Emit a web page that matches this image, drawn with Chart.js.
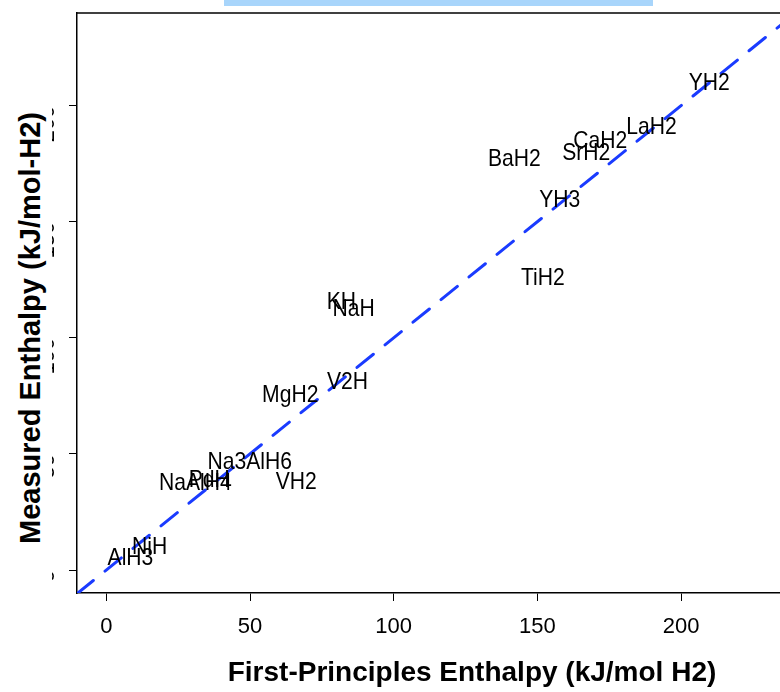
<!DOCTYPE html>
<html>
<head>
<meta charset="utf-8">
<script src="https://cdn.jsdelivr.net/npm/chart.js@4"></script>
<style>
  html, body { margin: 0; padding: 0; background: #fff; overflow: hidden; width: 780px; height: 692px; }
  #wrap { position: absolute; left: 0; top: 0; width: 890px; height: 692px; }
  #topbar { position: absolute; left: 224px; top: 0; width: 429px; height: 6px; background: #a8d5fb; }
  #ytitle {
    position: absolute; left: 0; top: 0; width: 52px; height: 692px; background: #fff;
  }
  #ytitle span {
    position: absolute; left: 30px; top: 328px; white-space: nowrap;
    transform: translate(-50%, -50%) rotate(-90deg);
    font: bold 29px "Liberation Sans", Arial, sans-serif;
    color: #000;
  }
</style>
</head>
<body>
<div id="wrap"><canvas id="chart" width="890" height="692"></canvas></div>
<div id="ytitle"><span>Measured Enthalpy (kJ/mol-H2)</span></div>
<div id="topbar"></div>
<script>
// compounds, first-principles vs measured enthalpy (kJ/mol H2)
const compounds = ['YH2', 'LaH2', 'CaH2', 'SrH2', 'BaH2', 'YH3', 'TiH2', 'KH', 'NaH', 'V2H',
  'MgH2', 'Na3AlH6', 'NaAlH4', 'PdH', 'VH2', 'NiH', 'AlH3'];
const firstPrinciples = [209.8, 189.7, 171.9, 167.0, 142.0, 157.8, 151.9, 81.8, 86.1, 83.9,
  64.0, 49.9, 31.0, 35.8, 66.1, 15.1, 8.4];
const measured = [209.8, 190.8, 184.4, 179.6, 177.0, 159.4, 125.8, 115.4, 112.4, 81.0,
  75.0, 46.5, 37.5, 38.8, 37.9, 9.9, 5.2];

const xTicks = [0, 50, 100, 150, 200, 250];
const yTicks = [0, 50, 100, 150, 200];
const refLine = [-10.2, 270]; // y = x

const FONT = '"Liberation Sans", Arial, sans-serif';

// draw compound names centred on their points (narrow, like the original)
const labelPlugin = {
  id: 'labels',
  afterDatasetsDraw(chart) {
    const ctx = chart.ctx;
    const meta = chart.getDatasetMeta(1);
    const sx = 0.88;
    ctx.save();
    ctx.font = '24px ' + FONT;
    ctx.fillStyle = '#000';
    ctx.textAlign = 'center';
    ctx.textBaseline = 'middle';
    meta.data.forEach((pt, i) => {
      ctx.save();
      ctx.translate(pt.x, pt.y);
      ctx.scale(sx, 1);
      ctx.fillText(compounds[i], 0, 0);
      ctx.restore();
    });
    ctx.restore();
  }
};

// top edge of the plot box
const boxPlugin = {
  id: 'box',
  afterDraw(chart) {
    const { ctx, chartArea } = chart;
    ctx.save();
    ctx.strokeStyle = '#000';
    ctx.lineWidth = 1.5;
    ctx.beginPath();
    ctx.moveTo(chartArea.left, chartArea.top);
    ctx.lineTo(chartArea.right, chartArea.top);
    ctx.stroke();
    ctx.restore();
  }
};

new Chart(document.getElementById('chart'), {
  type: 'scatter',
  data: {
    datasets: [
      {
        type: 'line',
        data: refLine.map(v => ({ x: v, y: v })),
        borderColor: '#1a3bff',
        borderWidth: 3,
        borderDash: [21, 15],
        borderCapStyle: 'round',
        pointRadius: 0,
        fill: false
      },
      {
        data: firstPrinciples.map((x, i) => ({ x, y: measured[i] })),
        pointRadius: 0,
        pointHoverRadius: 0
      }
    ]
  },
  options: {
    responsive: false,
    animation: false,
    events: [],
    layout: { padding: { top: 13, right: 23, left: 0, bottom: 0 } },
    plugins: { legend: { display: false }, tooltip: { enabled: false } },
    scales: {
      x: {
        type: 'linear',
        min: -10.2,
        max: 264.7,
        afterBuildTicks: s => { s.ticks = xTicks.map(v => ({ value: v })); },
        afterFit: s => { s.height = 99; s.paddingLeft = 0; s.paddingRight = 0; },
        ticks: { color: '#000', padding: 13, font: { family: FONT, size: 22 }, maxRotation: 0 },
        grid: { drawOnChartArea: false, tickLength: 8, tickColor: '#000', tickWidth: 1 },
        border: { display: true, color: '#000', width: 1.5 },
        title: {
          display: true,
          text: 'First-Principles Enthalpy (kJ/mol H2)',
          color: '#000',
          font: { family: FONT, size: 28, weight: 'bold' },
          padding: { top: 0, bottom: 2 }
        }
      },
      y: {
        type: 'linear',
        min: -9.9,
        max: 239.9,
        afterBuildTicks: s => { s.ticks = yTicks.map(v => ({ value: v })); },
        afterFit: s => { s.width = 77; s.paddingTop = 0; s.paddingBottom = 0; },
        ticks: { color: '#000', padding: 21, font: { family: FONT, size: 22 }, minRotation: 90, maxRotation: 90 },
        grid: { drawOnChartArea: false, tickLength: 8, tickColor: '#000', tickWidth: 1 },
        border: { display: true, color: '#000', width: 1.5 }
      }
    }
  },
  plugins: [labelPlugin, boxPlugin]
});
</script>
</body>
</html>
